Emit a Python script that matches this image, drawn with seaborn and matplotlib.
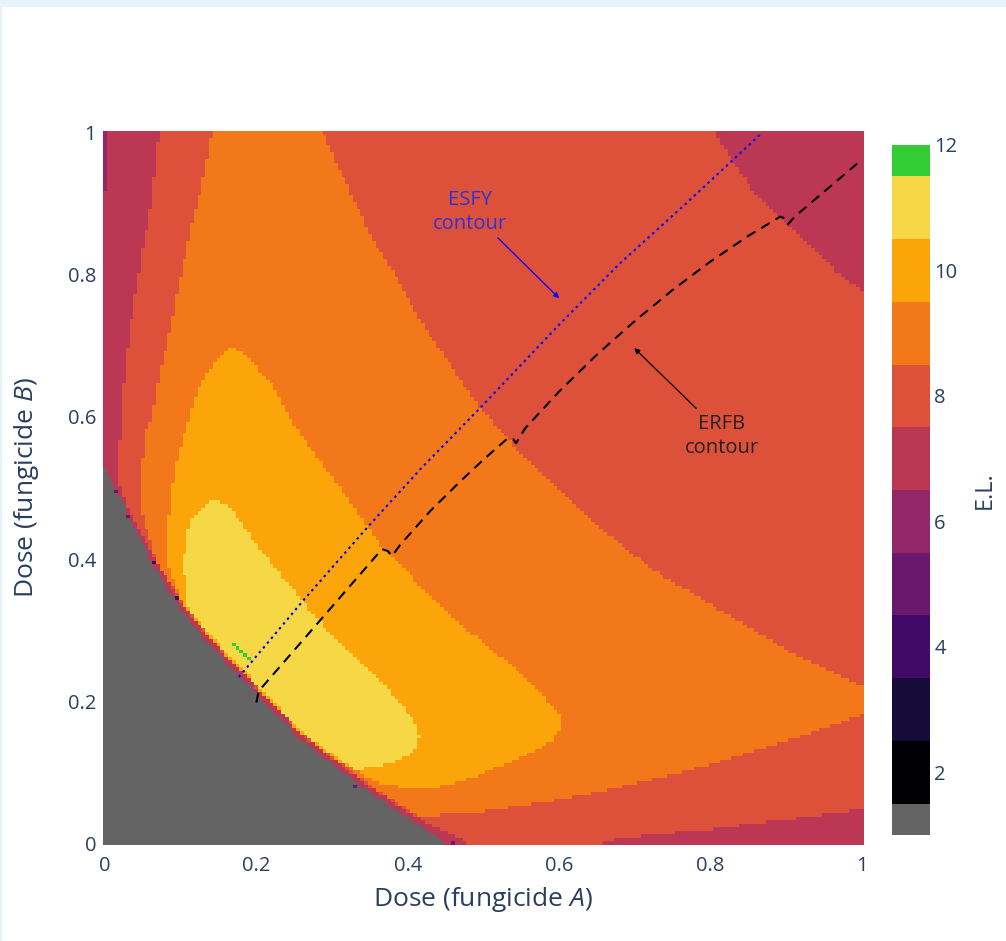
import numpy as np
import pandas as pd
import matplotlib
matplotlib.use("Agg")
import matplotlib.pyplot as plt
import seaborn as sns
from matplotlib.path import Path
from matplotlib.colors import ListedColormap, BoundaryNorm
from matplotlib.patches import Rectangle

# ---------------------------------------------------------------- dose grid
GRID_N = 201
dose_values = np.linspace(0.0, 1.0, GRID_N)

# ------------------------------------------- effective-life (E.L.) regions
# Each region is an outline in (dose A, dose B); cells inside take its E.L.
# Everything not covered by a region has E.L. = 7.
BASE_EL = 7

el8_a = [0.072, 0.800, 0.854, 0.899, 0.965, 1.010, 1.010, 0.811, 0.679, 0.631,
         0.487, 0.468, 0.445, 0.393, 0.350, 0.303, 0.262, 0.204, 0.180, 0.143,
         0.103, 0.066, 0.035, 0.020, 0.019, 0.021, 0.029, 0.039, 0.051, 0.062, 0.072]
el8_b = [1.010, 1.010, 0.920, 0.875, 0.805, 0.770, 0.049, 0.021, 0.007, -0.010,
         -0.010, 0.008, 0.018, 0.048, 0.080, 0.117, 0.151, 0.215, 0.242, 0.283,
         0.334, 0.401, 0.462, 0.500, 0.530, 0.609, 0.689, 0.767, 0.843, 0.903, 1.010]

el9_a = [0.143, 0.285, 0.311, 0.334, 0.355, 0.375, 0.417, 0.495, 0.557, 0.636,
         0.723, 0.811, 0.899, 1.010, 1.010, 0.899, 0.767, 0.636, 0.505, 0.417,
         0.395, 0.352, 0.305, 0.264, 0.206, 0.182, 0.145, 0.105, 0.072, 0.055,
         0.045, 0.053, 0.062, 0.068, 0.084, 0.097, 0.114, 0.131, 0.143]
el9_b = [1.010, 1.010, 0.945, 0.894, 0.847, 0.815, 0.735, 0.613, 0.539, 0.459,
         0.385, 0.329, 0.273, 0.215, 0.185, 0.143, 0.101, 0.068, 0.045, 0.038,
         0.050, 0.080, 0.121, 0.155, 0.218, 0.245, 0.286, 0.337, 0.389, 0.440,
         0.483, 0.577, 0.599, 0.641, 0.711, 0.782, 0.866, 0.941, 1.010]

el10_a = [0.167, 0.185, 0.202, 0.223, 0.246, 0.290, 0.345, 0.370, 0.417, 0.482,
          0.548, 0.585, 0.604, 0.605, 0.590, 0.548, 0.482, 0.450, 0.417, 0.390,
          0.360, 0.335, 0.300, 0.259, 0.201, 0.177, 0.140, 0.100, 0.084, 0.084,
          0.092, 0.110, 0.124, 0.137, 0.152, 0.167]
el10_b = [0.697, 0.690, 0.669, 0.641, 0.595, 0.530, 0.448, 0.413, 0.362, 0.297,
          0.241, 0.200, 0.179, 0.165, 0.143, 0.119, 0.091, 0.081, 0.075, 0.079,
          0.086, 0.100, 0.121, 0.155, 0.219, 0.246, 0.287, 0.340, 0.389, 0.455,
          0.525, 0.595, 0.641, 0.665, 0.688, 0.697]

el11_a = [0.110, 0.104, 0.106, 0.114, 0.124, 0.135, 0.145, 0.160, 0.171, 0.202,
          0.246, 0.289, 0.334, 0.377, 0.407, 0.417, 0.410, 0.399, 0.375, 0.355,
          0.330, 0.300, 0.259, 0.201, 0.177, 0.140, 0.120, 0.110]
el11_b = [0.333, 0.385, 0.431, 0.455, 0.469, 0.478, 0.482, 0.478, 0.465, 0.417,
          0.361, 0.305, 0.259, 0.213, 0.175, 0.150, 0.133, 0.123, 0.112, 0.106,
          0.104, 0.126, 0.157, 0.223, 0.250, 0.292, 0.316, 0.333]

el6_corner_a = [-0.010, 0.003, 0.003, -0.010]
el6_corner_b = [0.917, 0.917, 1.010, 1.010]

# control fails (E.L. = 1) at low combined dose
fail_a = [-0.010, -0.010, 0.000, 0.030, 0.062, 0.100, 0.140, 0.177, 0.201, 0.259,
          0.300, 0.347, 0.390, 0.443, 0.455]
fail_b = [-0.010, 0.530, 0.530, 0.465, 0.395, 0.328, 0.277, 0.236, 0.209, 0.145,
          0.111, 0.074, 0.042, 0.006, -0.010]

# isolated cells along the failure edge
speck_a = [0.013, 0.029, 0.064, 0.095, 0.329, 0.460]
speck_b = [0.493, 0.462, 0.396, 0.347, 0.081, 0.000]
speck_el = [5, 5, 4, 4, 5, 5]

# optimum cells (E.L. = 12)
best_a = [0.170, 0.175, 0.180, 0.185, 0.190]
best_b = [0.280, 0.275, 0.270, 0.265, 0.258]

# --------------------------------------------------------------- contours
esfy_a = [0.177, 0.263, 0.347, 0.417, 0.495, 0.600, 0.679, 0.767, 0.868]
esfy_b = [0.234, 0.343, 0.445, 0.527, 0.612, 0.730, 0.815, 0.900, 1.000]

erfb_a = [0.200, 0.203, 0.366, 0.374, 0.379, 0.390, 0.430, 0.470, 0.500, 0.532,
          0.539, 0.543, 0.555, 0.600, 0.650, 0.702, 0.750, 0.800, 0.850, 0.892,
          0.899, 0.902, 0.911, 0.995]
erfb_b = [0.198, 0.214, 0.414, 0.411, 0.404, 0.420, 0.468, 0.510, 0.540, 0.570,
          0.569, 0.563, 0.584, 0.636, 0.688, 0.737, 0.779, 0.819, 0.855, 0.882,
          0.879, 0.871, 0.882, 0.958]

cbar_ticks = [2, 4, 6, 8, 10, 12]
axis_ticks = [0, 0.2, 0.4, 0.6, 0.8, 1]
axis_tick_labels = ["0", "0.2", "0.4", "0.6", "0.8", "1"]

# ------------------------------------------------------------ build grid
A, B = np.meshgrid(dose_values, dose_values)
pts = np.column_stack([A.ravel(), B.ravel()])
el = np.full(A.shape, BASE_EL, dtype=float)

layers = [
    (8, el8_a, el8_b),
    (9, el9_a, el9_b),
    (10, el10_a, el10_b),
    (11, el11_a, el11_b),
    (6, el6_corner_a, el6_corner_b),
    (1, fail_a, fail_b),
]
for level, xs, ys in layers:
    inside = Path(np.column_stack([xs, ys])).contains_points(pts).reshape(A.shape)
    el[inside] = level

step = GRID_N - 1
for a, b, lev in zip(speck_a, speck_b, speck_el):
    el[int(round(b * step)), int(round(a * step))] = lev
for a, b in zip(best_a, best_b):
    el[int(round(b * step)), int(round(a * step))] = 12

grid_df = pd.DataFrame(el, index=np.round(dose_values, 3), columns=np.round(dose_values, 3))

# ---------------------------------------------------------------- colours
inferno = matplotlib.colormaps["inferno"]
el_colors = ["#646464"] + [inferno(i / 10) for i in range(10)] + ["#32cd32"]
cmap = ListedColormap(el_colors)
bounds = np.concatenate([[1.0], np.arange(1.5, 12.0, 1.0), [12.0]])
norm = BoundaryNorm(bounds, cmap.N)

TEXT = "#2a3f5f"

# ----------------------------------------------------------------- figure
sns.set_theme(style="white")
plt.rcParams["font.family"] = ["Open Sans", "DejaVu Sans"]
plt.rcParams["mathtext.fontset"] = "custom"
plt.rcParams["mathtext.rm"] = "Open Sans"
plt.rcParams["mathtext.it"] = "Open Sans:italic"

W, H = 1006, 941
fig = plt.figure(figsize=(W / 100, H / 100), dpi=100)
fig.patch.set_facecolor("white")
fig.patches.append(Rectangle((0, 1 - 7 / H), 1, 7 / H, transform=fig.transFigure,
                             facecolor="#e5f3fb", edgecolor="none", zorder=0))
fig.patches.append(Rectangle((0, 0), 2 / W, 1, transform=fig.transFigure,
                             facecolor="#e5f3fb", edgecolor="none", zorder=0))

ax_rect = [103 / W, 1 - 845 / H, 761 / W, 714 / H]
ax = fig.add_axes(ax_rect)
cax = fig.add_axes([892 / W, 1 - 835 / H, 38 / W, 690 / H])

sns.heatmap(grid_df, ax=ax, cbar_ax=cax, cmap=cmap, norm=norm,
            xticklabels=False, yticklabels=False,
            cbar_kws=dict(ticks=cbar_ticks, spacing="proportional"))
ax.invert_yaxis()
ax.set_xlabel("")
ax.set_ylabel("")

cax.minorticks_off()
cax.tick_params(which="both", length=0, labelsize=14.5, colors=TEXT, pad=3)
for lab in cax.get_yticklabels():
    lab.set_color(TEXT)

# overlay axes in dose units for contours, annotations and ticks
half = 0.5 / step
ov = fig.add_axes(ax_rect, facecolor="none")
ov.set_xlim(-half, 1 + half)
ov.set_ylim(-half, 1 + half)
for s in ov.spines.values():
    s.set_visible(False)
ov.set_xticks(axis_ticks)
ov.set_xticklabels(axis_tick_labels)
ov.set_yticks(axis_ticks)
ov.set_yticklabels(axis_tick_labels)
ov.tick_params(axis="y", length=0, labelsize=14.5, colors=TEXT, pad=5)
ov.tick_params(axis="x", length=0, labelsize=14.5, colors=TEXT, pad=8)

ov.plot(esfy_a, esfy_b, color="blue", lw=1.5, linestyle=(0, (1.2, 1.8)))
ov.plot(erfb_a, erfb_b, color="black", lw=1.5, linestyle=(0, (4.8, 3.2)))

ov.annotate("", xy=(0.600, 0.767), xytext=(0.519, 0.852),
            arrowprops=dict(arrowstyle="-|>", color="blue", lw=0.9,
                            mutation_scale=8, shrinkA=0, shrinkB=0))
ov.text(0.482, 0.889, "ESFY\ncontour", ha="center", va="center",
        color="#3030d8", fontsize=14.5, linespacing=1.25)

ov.annotate("", xy=(0.699, 0.697), xytext=(0.781, 0.612),
            arrowprops=dict(arrowstyle="-|>", color="black", lw=0.9,
                            mutation_scale=8, shrinkA=0, shrinkB=0))
ov.text(0.815, 0.573, "ERFB\ncontour", ha="center", va="center",
        color="#222222", fontsize=14.5, linespacing=1.25)

fig.text(483 / W, 1 - 899 / H, "Dose (fungicide $A$)", ha="center", va="center",
         fontsize=19, color=TEXT)
fig.text(27 / W, 1 - 488 / H, "Dose (fungicide $B$)", ha="center", va="center",
         rotation=90, fontsize=19, color=TEXT)
fig.text(985 / W, 1 - 490 / H, "E.L.", ha="center", va="center",
         rotation=90, fontsize=17, color=TEXT)

fig.savefig("out.png", dpi=100)
